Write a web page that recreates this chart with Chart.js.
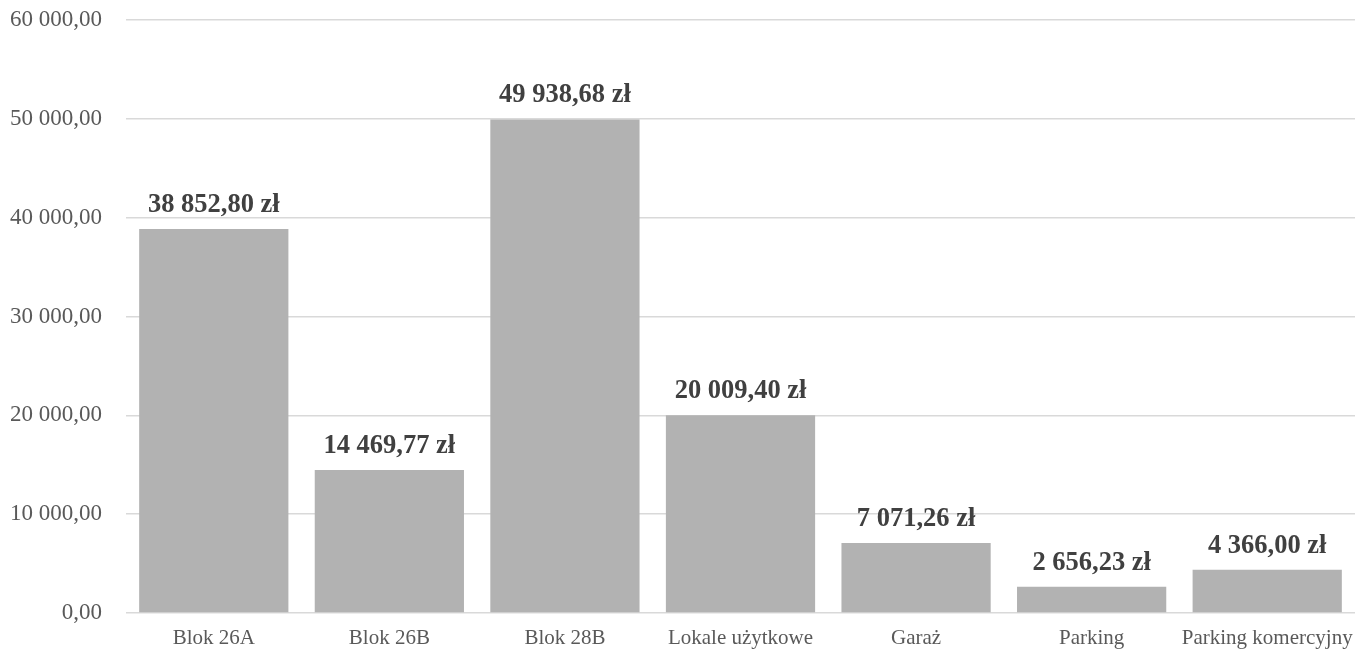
<!DOCTYPE html>
<html>
<head>
<meta charset="utf-8">
<script src="https://cdn.jsdelivr.net/npm/chart.js@4/dist/chart.umd.min.js"></script>
<style>
  html, body { margin: 0; padding: 0; background: #ffffff; }
  #wrap { width: 1368px; height: 651px; }
</style>
</head>
<body>
<div id="wrap"><canvas id="c" width="1368" height="651"></canvas></div>
<script>
const categories = ["Blok 26A", "Blok 26B", "Blok 28B", "Lokale użytkowe", "Garaż", "Parking", "Parking komercyjny"];
const values = [38852.80, 14469.77, 49938.68, 20009.40, 7071.26, 2656.23, 4366.00];
const yMin = 0;
const yMax = 60000;
const yStep = 10000;

function fmt(v) {
  const parts = v.toFixed(2).split(".");
  const intPart = parts[0].replace(/\B(?=(\d{3})+(?!\d))/g, " ");
  return intPart + "," + parts[1];
}

const dataLabels = {
  id: "dataLabels",
  afterDatasetsDraw(chart) {
    const ctx = chart.ctx;
    const meta = chart.getDatasetMeta(0);
    ctx.save();
    ctx.font = "bold 26.5px 'Liberation Serif', 'Times New Roman', serif";
    ctx.fillStyle = "#404040";
    ctx.textAlign = "center";
    ctx.textBaseline = "alphabetic";
    meta.data.forEach((bar, i) => {
      ctx.fillText(fmt(values[i]) + " zł", bar.x, bar.y - 17);
    });
    ctx.restore();
  }
};

new Chart(document.getElementById("c"), {
  type: "bar",
  data: {
    labels: categories,
    datasets: [{
      data: values,
      backgroundColor: "#b2b2b2",
      borderWidth: 0,
      barPercentage: 0.85,
      categoryPercentage: 1.0
    }]
  },
  options: {
    responsive: false,
    animation: false,
    layout: { padding: { top: 20, right: 13, left: 0, bottom: 0 } },
    plugins: { legend: { display: false }, tooltip: { enabled: false } },
    scales: {
      x: {
        grid: { display: false },
        border: { display: false },
        afterFit(scale) { scale.height = 38; },
        ticks: {
          color: "#595959",
          font: { family: "'Liberation Serif', 'Times New Roman', serif", size: 21 },
          padding: 5,
          maxRotation: 0,
          autoSkip: false
        }
      },
      y: {
        min: yMin,
        max: yMax,
        grid: { color: "#d9d9d9", lineWidth: 1.5, drawTicks: false },
        border: { display: false },
        afterFit(scale) { scale.width = 126; scale.paddingTop = 0; scale.paddingBottom = 0; },
        ticks: {
          stepSize: yStep,
          color: "#595959",
          font: { family: "'Liberation Serif', 'Times New Roman', serif", size: 23 },
          padding: 24,
          callback: (v) => fmt(v)
        }
      }
    }
  },
  plugins: [dataLabels]
});
</script>
</body>
</html>
